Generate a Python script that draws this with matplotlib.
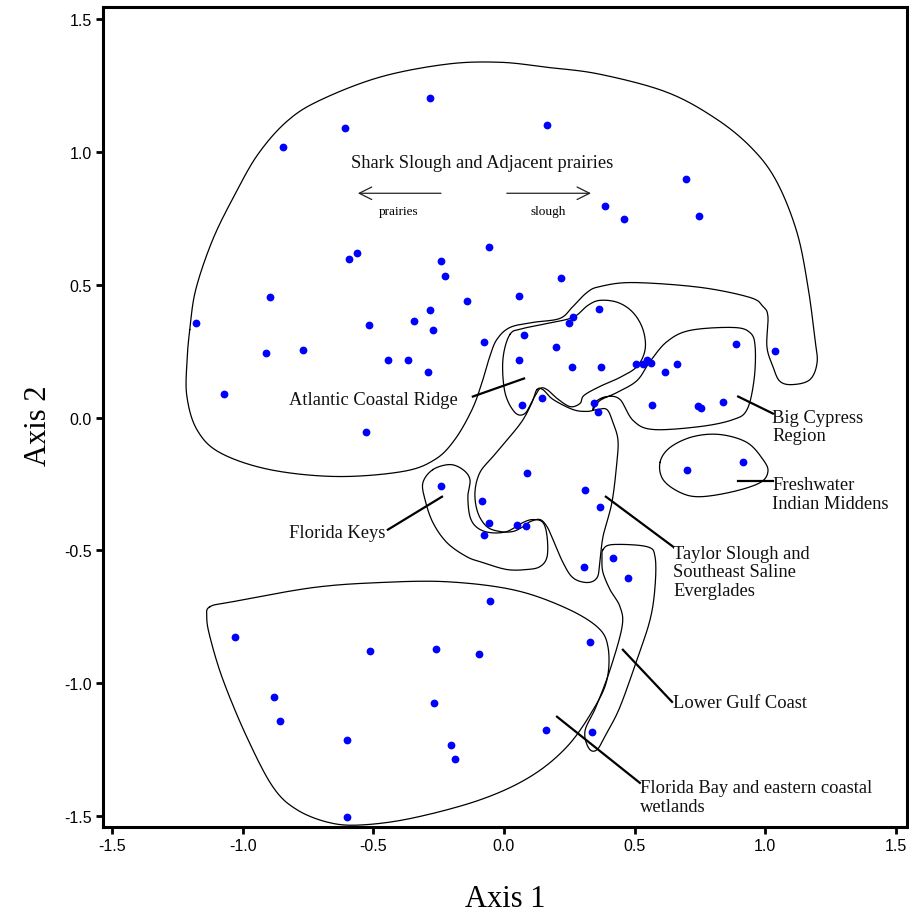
import numpy as np
import matplotlib
matplotlib.use('Agg')
import matplotlib.pyplot as plt

plt.rcParams['axes.unicode_minus'] = False

# Site scores (Axis 1, Axis 2)
axis1 = [-0.283, 0.165, -0.609, -0.846, 0.697, 0.387, 0.459, 0.746, -0.057, -0.563,
         -0.593, -0.241, -0.226, 0.218, -0.896, -0.142, 0.057, -1.179, -0.517, -0.344,
         -0.283, -0.272, -0.077, -0.769, -0.911, -0.444, -0.367, -0.291, -1.072, -0.528,
         1.037,
         0.078, 0.200, 0.056, 0.261, 0.370, 0.265, 0.248, 0.364, 0.070, 0.147, 0.344,
         0.504, 0.531, 0.549, 0.561, 0.615, 0.661, 0.889, 0.565, 0.744, 0.753, 0.838, 0.360,
         0.701, 0.915,
         0.088, 0.309, 0.366, -0.084, -0.056, 0.050, 0.085, 0.305,
         -0.240, -0.077,
         0.417, 0.475, 0.336,
         -0.055, -1.028, -0.514, -0.259, -0.096, 0.330, -0.881, -0.856, -0.269, -0.600,
         -0.203, -0.186, 0.161, -0.600]
axis2 = [1.202, 1.100, 1.089, 1.017, 0.896, 0.795, 0.746, 0.757, 0.640, 0.618,
         0.595, 0.588, 0.531, 0.527, 0.452, 0.437, 0.456, 0.354, 0.350, 0.362,
         0.403, 0.331, 0.286, 0.256, 0.241, 0.215, 0.215, 0.173, 0.087, -0.053,
         0.252,
         0.311, 0.264, 0.215, 0.189, 0.191, 0.378, 0.354, 0.408, 0.046, 0.073, 0.054,
         0.202, 0.202, 0.215, 0.206, 0.171, 0.203, 0.275, 0.048, 0.045, 0.036, 0.059, 0.021,
         -0.196, -0.169,
         -0.210, -0.271, -0.336, -0.315, -0.397, -0.404, -0.409, -0.564,
         -0.256, -0.442,
         -0.527, -0.603, -1.183,
         -0.690, -0.827, -0.879, -0.871, -0.889, -0.844, -1.052, -1.142, -1.073, -1.212,
         -1.234, -1.284, -1.175, -1.502]

# hand-drawn region outlines (data units)
shark_slough = [(-1.202, 0.331), (-1.179, 0.482), (-1.114, 0.670), (-1.029, 0.840), (-0.941, 0.991),
                (-0.830, 1.115), (-0.704, 1.194), (-0.475, 1.281), (-0.218, 1.330), (-0.015, 1.337),
                (0.165, 1.318), (0.367, 1.292), (0.624, 1.224), (0.815, 1.122), (0.953, 1.009),
                (1.045, 0.885), (1.121, 0.697), (1.163, 0.493), (1.190, 0.294), (1.198, 0.207),
                (1.171, 0.143), (1.106, 0.124), (1.056, 0.136), (1.029, 0.192), (1.006, 0.267),
                (1.010, 0.380), (0.991, 0.418), (0.941, 0.452), (0.750, 0.490), (0.494, 0.508),
                (0.367, 0.493), (0.318, 0.471), (0.264, 0.418), (0.214, 0.373), (0.111, 0.358),
                (0.023, 0.339), (-0.027, 0.294), (-0.054, 0.230), (-0.084, 0.132), (-0.122, 0.030),
                (-0.188, -0.083), (-0.264, -0.158), (-0.387, -0.203), (-0.639, -0.222),
                (-0.896, -0.196), (-1.087, -0.132), (-1.175, -0.045), (-1.213, 0.079), (-1.213, 0.207)]
coastal_ridge = [(0.023, 0.313), (-0.004, 0.218), (0.004, 0.094), (0.042, 0.019), (0.080, 0.015),
                 (0.111, 0.068), (0.138, 0.109), (0.165, 0.105), (0.203, 0.072), (0.253, 0.041),
                 (0.291, 0.053), (0.306, 0.083), (0.367, 0.117), (0.444, 0.151), (0.509, 0.192),
                 (0.540, 0.256), (0.532, 0.331), (0.494, 0.395), (0.436, 0.433), (0.367, 0.441),
                 (0.321, 0.422), (0.264, 0.377), (0.165, 0.354), (0.073, 0.335)]
big_cypress = [(0.341, 0.030), (0.367, 0.064), (0.432, 0.094), (0.509, 0.139), (0.559, 0.211),
               (0.624, 0.286), (0.712, 0.328), (0.876, 0.339), (0.941, 0.320), (0.961, 0.267),
               (0.957, 0.143), (0.930, 0.030), (0.876, -0.008), (0.750, -0.034), (0.570, -0.045),
               (0.494, -0.011), (0.444, 0.068), (0.394, 0.079), (0.352, 0.060)]
taylor_slough = [(0.126, 0.105), (0.149, 0.105), (0.188, 0.068), (0.264, 0.030), (0.318, 0.023),
                 (0.356, 0.030), (0.394, 0.030), (0.417, -0.019), (0.436, -0.083), (0.432, -0.169),
                 (0.413, -0.320), (0.379, -0.448), (0.367, -0.546), (0.356, -0.603), (0.318, -0.621),
                 (0.264, -0.603), (0.226, -0.546), (0.188, -0.460), (0.165, -0.411), (0.138, -0.384),
                 (0.100, -0.392), (0.073, -0.411), (0.034, -0.429), (-0.015, -0.429), (-0.065, -0.411),
                 (-0.100, -0.358), (-0.111, -0.282), (-0.092, -0.207), (-0.042, -0.147),
                 (0.023, -0.072), (0.073, -0.008), (0.107, 0.056)]
florida_keys = [(-0.272, -0.196), (-0.207, -0.177), (-0.157, -0.196), (-0.130, -0.234), (-0.138, -0.298),
                (-0.130, -0.373), (-0.103, -0.414), (-0.054, -0.433), (0.011, -0.429), (0.073, -0.395),
                (0.111, -0.384), (0.149, -0.395), (0.165, -0.448), (0.165, -0.524), (0.138, -0.561),
                (0.088, -0.572), (0.011, -0.572), (-0.080, -0.546), (-0.142, -0.524), (-0.218, -0.471),
                (-0.272, -0.395), (-0.302, -0.309), (-0.310, -0.245)]
lower_gulf = [(0.379, -0.497), (0.417, -0.478), (0.547, -0.486), (0.578, -0.524), (0.578, -0.637),
              (0.559, -0.761), (0.509, -0.911), (0.444, -1.089), (0.394, -1.186), (0.356, -1.250),
              (0.325, -1.245), (0.310, -1.180), (0.352, -1.089), (0.406, -0.949), (0.452, -0.787),
              (0.444, -0.712), (0.406, -0.648), (0.379, -0.584), (0.375, -0.535)]
florida_bay = [(-1.125, -0.712), (-1.037, -0.693), (-0.731, -0.640), (-0.475, -0.621), (-0.218, -0.618),
               (0.034, -0.648), (0.226, -0.712), (0.356, -0.787), (0.398, -0.863), (0.394, -0.987),
               (0.341, -1.100), (0.241, -1.239), (0.100, -1.352), (-0.092, -1.439), (-0.348, -1.507),
               (-0.540, -1.533), (-0.666, -1.525), (-0.792, -1.476), (-0.884, -1.390), (-0.984, -1.202),
               (-1.075, -0.987), (-1.125, -0.825), (-1.137, -0.750)]
middens = [(0.597, -0.169), (0.635, -0.113), (0.723, -0.072), (0.827, -0.064), (0.930, -0.094),
           (0.991, -0.158), (1.010, -0.203), (0.980, -0.245), (0.876, -0.279), (0.750, -0.298),
           (0.674, -0.282), (0.609, -0.234)]
outlines = [shark_slough, coastal_ridge, big_cypress, taylor_slough, florida_keys,
            lower_gulf, florida_bay, middens]


def smooth_closed(pts, n=16):
    # closed Catmull-Rom curve through the outline vertices
    p = np.array(pts)
    P = np.vstack([p[-1], p, p[0], p[1]])
    t = np.linspace(0, 1, n, endpoint=False)[:, None]
    segs = []
    for i in range(1, len(p) + 1):
        p0, p1, p2, p3 = P[i - 1], P[i], P[i + 1], P[i + 2]
        segs.append(0.5 * (2 * p1 + (-p0 + p2) * t + (2 * p0 - 5 * p1 + 4 * p2 - p3) * t ** 2
                           + (-p0 + 3 * p1 - 3 * p2 + p3) * t ** 3))
    c = np.vstack(segs)
    return np.vstack([c, c[:1]])


fig = plt.figure(figsize=(9.09, 9.2), dpi=100)
ax = fig.add_axes([0.1133, 0.1, 0.8845, 0.8913])

for o in outlines:
    c = smooth_closed(o)
    ax.plot(c[:, 0], c[:, 1], color='black', lw=0.9)

ax.plot(axis1, axis2, 'o', color='#0000ff', ms=5.6, mec='none')

serif = 'Liberation Serif'
lab = dict(family=serif, fontsize=13.3, color='#111111', linespacing=1.12)

ax.text(-0.084, 0.960, 'Shark Slough and Adjacent prairies', ha='center', va='center', **lab)
ax.annotate('', xy=(-0.559, 0.844), xytext=(-0.241, 0.844),
            arrowprops=dict(arrowstyle='->,head_length=0.9,head_width=0.45', lw=0.9,
                            shrinkA=0, shrinkB=0, color='#222222'))
ax.annotate('', xy=(0.333, 0.844), xytext=(0.011, 0.844),
            arrowprops=dict(arrowstyle='->,head_length=0.9,head_width=0.45', lw=0.9,
                            shrinkA=0, shrinkB=0, color='#222222'))
ax.text(-0.402, 0.776, 'prairies', ha='center', va='center', family=serif, fontsize=9.5)
ax.text(0.168, 0.776, 'slough', ha='center', va='center', family=serif, fontsize=9.5)

# leader lines + region labels
leaders = [((-0.119, 0.079), (0.077, 0.147)),
           ((0.896, 0.079), (1.029, 0.015)),
           ((0.896, -0.237), (1.029, -0.237)),
           ((0.390, -0.298), (0.647, -0.486)),
           ((-0.444, -0.422), (-0.237, -0.298)),
           ((0.455, -0.874), (0.643, -1.070)),
           ((0.203, -1.126), (0.520, -1.375))]
for (x0, y0), (x1, y1) in leaders:
    ax.plot([x0, x1], [y0, y1], color='black', lw=1.6)

ax.text(-0.176, 0.068, 'Atlantic Coastal Ridge', ha='right', va='center', **lab)
ax.text(1.026, -0.034, 'Big Cypress\nRegion', ha='left', va='center', **lab)
ax.text(1.026, -0.288, 'Freshwater\nIndian Middens', ha='left', va='center', **lab)
ax.text(0.647, -0.580, 'Taylor Slough and\nSoutheast Saline\nEverglades', ha='left', va='center', **lab)
ax.text(-0.452, -0.433, 'Florida Keys', ha='right', va='center', **lab)
ax.text(0.647, -1.073, 'Lower Gulf Coast', ha='left', va='center', **lab)
ax.text(0.520, -1.429, 'Florida Bay and eastern coastal\nwetlands', ha='left', va='center', **lab)

ax.set_xlim(-1.534, 1.542)
ax.set_ylim(-1.541, 1.545)
ticks = [-1.5, -1.0, -0.5, 0.0, 0.5, 1.0, 1.5]
ax.set_xticks(ticks)
ax.set_yticks(ticks)
ax.set_xticklabels(['%.1f' % t for t in ticks], family='Liberation Sans', fontsize=11.5)
ax.set_yticklabels(['%.1f' % t for t in ticks], family='Liberation Sans', fontsize=11.5)
ax.tick_params(direction='out', length=5, width=2, pad=3)
for s in ax.spines.values():
    s.set_linewidth(2.2)

ax.set_xlabel('Axis 1', family=serif, fontsize=22)
ax.set_ylabel('Axis 2', family=serif, fontsize=22)
ax.xaxis.set_label_coords(0.5, -0.07)
ax.yaxis.set_label_coords(-0.062, 0.49)

fig.savefig('out.png', dpi=100)
